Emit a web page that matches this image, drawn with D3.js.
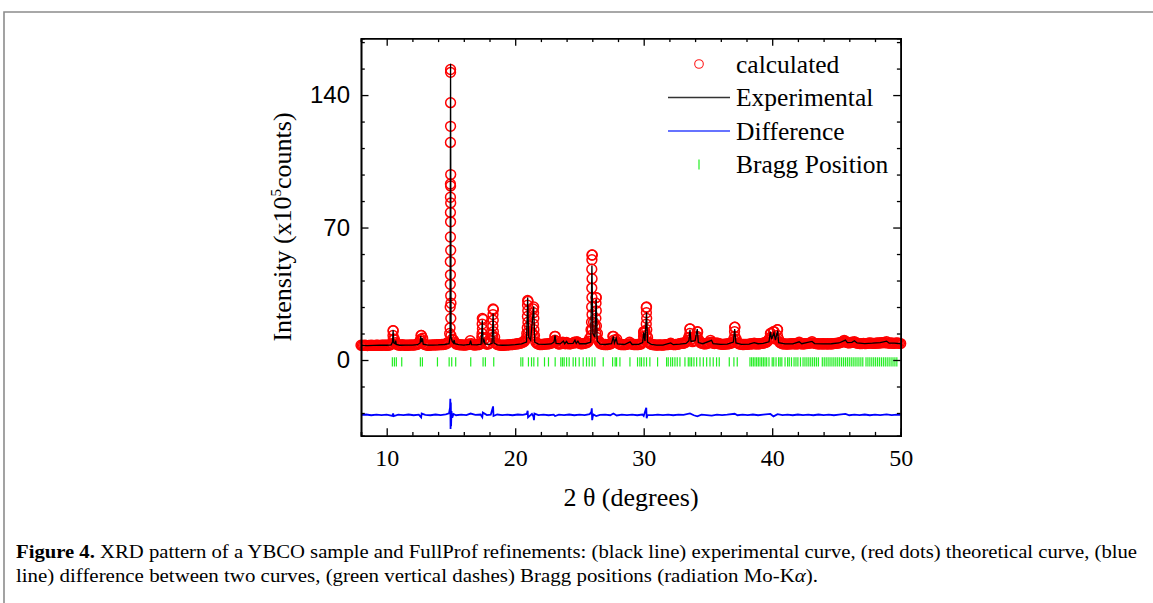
<!DOCTYPE html>
<html>
<head>
<meta charset="utf-8">
<script src="https://cdn.jsdelivr.net/npm/d3@7"></script>
<style>
  body { margin: 0; background: #fff; }
  svg { display: block; }
</style>
</head>
<body>
<div id="chart"></div>
<script>
// calculated profile, read every 0.1 deg from 8.0 to 50.0
var calcStart = 8.0, calcStep = 0.1;
var calcGrid = [
  7.8, 7.7, 7.7, 7.8, 7.7, 7.6, 7.7, 7.7, 7.8, 7.7,
  7.7, 7.7, 7.8, 7.8, 7.7, 7.7, 7.8, 7.9, 7.9, 7.8,
  7.8, 7.8, 7.9, 8.0, 8.7, 15.5, 11.0, 9.2, 8.2, 7.9,
  7.9, 7.8, 8.1, 7.9, 7.8, 7.8, 7.8, 7.8, 7.9, 8.0,
  7.9, 7.9, 8.0, 8.1, 8.3, 9.0, 10.2, 13.0, 11.5, 8.5,
  8.1, 7.9, 7.8, 7.8, 7.9, 7.9, 8.0, 8.0, 7.9, 8.1,
  8.0, 8.1, 8.1, 8.2, 8.2, 8.3, 8.5, 8.8, 9.5, 14.0,
  30.0, 11.0, 10.5, 9.2, 8.5, 8.3, 8.1, 8.0, 8.0, 8.0,
  7.9, 7.9, 8.0, 8.1, 8.5, 10.2, 8.6, 8.1, 7.9, 8.0,
  8.0, 8.1, 8.2, 8.6, 12.0, 21.5, 11.0, 8.9, 8.3, 8.5,
  8.9, 10.2, 13.5, 26.6, 12.0, 8.9, 8.2, 8.0, 7.9, 7.8,
  7.8, 7.8, 7.9, 7.9, 8.0, 8.0, 8.1, 8.1, 8.2, 8.3,
  8.4, 8.5, 8.6, 8.7, 8.9, 9.1, 9.4, 9.8, 10.8, 14.0,
  31.0, 18.0, 12.5, 14.5, 27.0, 13.0, 9.5, 8.7, 8.4, 8.2,
  8.2, 8.2, 8.3, 8.5, 8.4, 8.5, 8.6, 8.7, 8.9, 9.3,
  9.9, 12.5, 9.9, 8.7, 8.4, 8.5, 8.8, 9.5, 8.9, 8.6,
  9.3, 8.7, 8.5, 8.6, 8.8, 8.9, 9.4, 9.1, 9.7, 9.3,
  8.8, 8.6, 8.6, 8.7, 8.8, 9.0, 9.3, 9.9, 11.5, 16.0,
  55.5, 20.0, 18.0, 33.0, 14.0, 10.0, 8.9, 8.5, 8.3, 8.2,
  8.2, 8.1, 8.2, 8.3, 8.5, 8.9, 12.5, 9.5, 10.5, 11.0,
  8.9, 8.4, 8.2, 8.2, 8.1, 8.1, 8.2, 8.3, 8.5, 9.4,
  8.7, 8.3, 8.2, 8.2, 8.1, 8.2, 8.2, 8.3, 8.5, 9.3,
  14.4, 15.0, 27.8, 12.0, 9.4, 8.6, 8.3, 8.1, 8.0, 8.0,
  7.9, 7.9, 8.0, 8.0, 7.9, 7.9, 8.0, 8.1, 8.1, 8.2,
  8.3, 8.9, 8.4, 8.2, 8.1, 8.2, 8.3, 8.4, 8.6, 8.8,
  8.9, 8.8, 9.1, 9.5, 10.4, 12.0, 16.4, 11.0, 9.7, 10.1,
  10.4, 12.0, 14.8, 10.5, 9.3, 8.9, 8.7, 8.6, 8.5, 8.7,
  8.9, 9.2, 10.4, 9.5, 8.9, 8.7, 8.8, 9.1, 8.7, 8.5,
  8.4, 8.3, 8.3, 8.4, 8.4, 8.5, 8.6, 8.7, 8.9, 9.3,
  11.0, 17.3, 11.0, 9.1, 8.6, 8.4, 8.3, 8.2, 8.2, 8.3,
  8.3, 8.3, 8.4, 8.5, 8.6, 8.5, 8.9, 8.6, 8.5, 8.5,
  8.6, 8.7, 8.8, 8.9, 9.1, 9.3, 9.7, 10.4, 11.5, 14.0,
  12.0, 15.0, 11.5, 11.0, 16.0, 11.0, 9.3, 8.8, 8.6, 8.5,
  8.5, 8.4, 8.4, 8.5, 8.5, 8.6, 8.7, 8.6, 8.5, 8.5,
  8.6, 9.5, 8.7, 8.5, 8.5, 8.6, 8.7, 8.7, 8.8, 8.9,
  9.1, 9.7, 9.0, 8.8, 8.7, 8.6, 8.6, 8.5, 8.5, 8.6,
  8.6, 8.5, 8.5, 8.6, 8.5, 8.5, 8.6, 8.6, 8.7, 8.8,
  8.8, 8.9, 9.0, 9.2, 9.4, 9.7, 10.4, 9.9, 9.3, 9.1,
  9.0, 9.2, 9.5, 9.3, 9.7, 9.2, 8.9, 8.8, 8.7, 8.7,
  8.7, 8.8, 8.7, 8.7, 8.8, 8.9, 9.0, 8.9, 8.8, 8.8,
  8.8, 8.9, 9.0, 8.9, 9.1, 9.2, 9.1, 9.3, 9.1, 9.7,
  9.0, 8.9, 8.9, 9.0, 8.8, 8.8, 8.9, 9.1, 8.9, 8.8,
  8.7
];

// extra calculated points stacked on the flanks of the peaks
var calcPeaks = [
  [14.97,153.5],[14.97,152],[14.97,136],[14.97,123.5],[14.96,115],[14.98,98],[14.96,93],[14.97,92],
  [14.96,86],[14.98,83],[14.96,78],[14.97,73],[14.96,65],[14.98,58],[14.95,52],[14.96,45],
  [14.95,40],[14.98,34],[14.94,28],[14.99,22],[14.93,17],[15.0,13],
  [25.97,55.5],[25.97,53],[25.96,48],[25.98,43],[25.96,38],[25.97,33],[25.95,28],[25.98,24],
  [25.94,20],[25.99,16],[25.93,13],
  [26.3,33],[26.29,30],[26.31,26],[26.28,22],[26.32,18],[26.27,14],[26.33,12],
  [20.97,31.5],[20.96,29],[20.98,26],[20.95,23],[20.99,20],[20.94,17],[21.0,14],[20.93,12],
  [21.44,28],[21.43,25],[21.45,22],[21.42,19],[21.46,16],[21.41,13],
  [18.28,27],[18.27,24],[18.29,21],[18.26,18],[18.3,15],[18.25,12],
  [17.44,22],[17.43,19],[17.45,16.5],[17.42,14],[17.46,12],
  [30.22,28],[30.21,25],[30.23,22],[30.2,19],[30.24,16],[30.19,13],
  [30.0,15],[29.99,12.5],[30.01,11],
  [10.5,15.5],[10.49,13],[10.51,11],
  [12.67,13],[12.66,11],[12.69,10],
  [23.1,12.5],[23.09,10.5],
  [27.64,12.5],[27.65,10.5],
  [33.6,16.5],[33.59,14],[33.61,12],
  [34.17,15],[34.16,12.5],
  [37.08,17.3],[37.07,15],[37.09,12.5],
  [39.86,14],[39.87,12],[40.14,15],[40.42,16],[40.41,13]
];

// experimental curve
var expPts = [
  [8.0,7.7],[8.5,7.6],[9.0,7.7],[9.5,7.8],[10.0,7.8],[10.35,8.0],[10.45,9.5],[10.5,15.7],[10.55,9.0],
  [10.65,8.6],[10.7,10.2],[10.75,8.2],[11.0,7.8],[11.5,7.9],[12.0,7.9],[12.4,8.1],[12.6,9.0],[12.65,12.6],
  [12.7,9.5],[12.78,11.5],[12.84,8.4],[13.2,7.9],[13.6,7.9],[14.0,8.0],[14.5,8.2],[14.85,8.6],[14.93,12],
  [14.97,156.5],[15.01,12],[15.1,9.8],[15.2,9.0],[15.25,10.5],[15.3,8.6],[15.6,8.1],[16.0,7.9],[16.45,8.2],
  [16.53,10.3],[16.6,8.1],[17.0,8.0],[17.35,8.4],[17.44,21],[17.5,9.5],[17.58,10.5],[17.65,8.5],[18.0,8.3],
  [18.2,8.8],[18.28,24.5],[18.35,9.0],[18.6,8.0],[19.0,7.8],[19.5,7.9],[20.0,8.1],[20.5,8.5],[20.88,9.5],
  [20.97,33],[21.05,12],[21.2,10.5],[21.44,28.4],[21.52,9.4],[21.8,8.4],[22.3,8.3],[22.8,8.5],[23.02,9.5],
  [23.1,13],[23.18,8.8],[23.5,8.5],[23.75,10],[23.85,8.6],[24.0,9.8],[24.1,8.7],[24.5,8.8],[24.65,10.5],
  [24.75,8.8],[24.88,10],[25.0,8.6],[25.5,8.6],[25.88,9.5],[25.97,50],[26.05,14],[26.2,12],[26.3,32],
  [26.38,10],[26.6,8.4],[27.0,8.2],[27.5,8.6],[27.64,12.5],[27.72,9.0],[27.86,11.5],[27.95,8.5],[28.5,8.2],
  [28.94,9.6],[29.1,8.2],[29.6,8.3],[29.92,9.2],[30.0,14.6],[30.1,10],[30.22,25.2],[30.3,9.5],[30.6,8.2],
  [31.0,7.9],[31.5,7.9],[32.1,9.0],[32.3,8.1],[32.8,8.4],[33.3,8.8],[33.52,10.2],[33.6,16],[33.68,9.8],
  [34.0,10.2],[34.17,16.4],[34.25,9.2],[34.6,8.6],[35.28,10.4],[35.4,8.6],[36.0,8.3],[36.5,8.4],[36.98,9.5],
  [37.08,16.4],[37.18,9.0],[37.6,8.3],[38.2,8.4],[38.6,9.2],[38.9,8.6],[39.3,8.8],[39.75,9.6],[39.86,15],
  [39.95,11],[40.14,14.5],[40.25,10.5],[40.42,15.5],[40.5,9.2],[41.0,8.5],[41.6,8.5],[42.1,9.6],[42.3,8.6],
  [43.1,9.8],[43.3,8.7],[44.0,8.5],[44.6,8.6],[45.2,9.0],[45.7,10.5],[45.85,9.2],[46.2,9.3],[46.4,10.2],
  [46.6,9.0],[47.2,8.7],[47.8,8.9],[48.4,9.2],[48.9,10.0],[49.1,8.9],[49.5,8.9],[50.0,8.6]
];

// difference curve
var diffPts = [
  [8.0,-29.0],[8.4,-28.8],[8.8,-29.2],[9.2,-28.9],[9.6,-29.1],[10.0,-28.9],[10.45,-29.5],[10.5,-28.2],
  [10.55,-29.6],[10.9,-28.9],[11.3,-29.1],[11.7,-28.8],[12.1,-29.2],[12.5,-28.9],[12.68,-30.3],[12.72,-28.3],
  [13.0,-29.0],[13.4,-29.2],[13.8,-28.8],[14.2,-29.1],[14.6,-28.7],[14.85,-28.2],[14.93,-25],[14.95,-20.5],
  [14.97,-36.5],[14.99,-22.5],[15.01,-35],[15.04,-27],[15.1,-30.5],[15.2,-28.5],[15.4,-29.2],[15.8,-28.9],
  [16.2,-29.1],[16.53,-28.3],[16.9,-29.0],[17.3,-28.8],[17.44,-30.2],[17.48,-27.8],[17.8,-29.1],[18.1,-28.9],
  [18.28,-24.5],[18.31,-29.6],[18.6,-28.8],[19.0,-29.1],[19.4,-28.9],[19.8,-29.2],[20.2,-28.8],[20.6,-29.0],
  [20.9,-28.5],[20.97,-26.8],[21.0,-30.3],[21.3,-28.5],[21.42,-29.8],[21.46,-31.8],[21.5,-28.3],[21.8,-29.1],
  [22.2,-28.9],[22.6,-29.2],[23.0,-28.9],[23.1,-29.6],[23.4,-28.9],[23.8,-29.1],[24.2,-28.8],[24.6,-29.2],
  [25.0,-28.9],[25.4,-29.1],[25.8,-28.6],[25.93,-27.3],[25.96,-25.5],[25.99,-31.8],[26.03,-30],[26.1,-28.8],
  [26.3,-29.6],[26.6,-29.0],[27.0,-28.9],[27.4,-29.2],[27.64,-28.3],[27.9,-29.3],[28.3,-28.9],[28.7,-29.1],
  [29.1,-28.9],[29.5,-29.2],[29.9,-28.8],[30.0,-29.6],[30.2,-25.2],[30.23,-30.8],[30.3,-29.0],[30.7,-29.1],
  [31.1,-28.9],[31.5,-29.1],[31.9,-28.9],[32.3,-29.2],[32.7,-28.9],[33.1,-29.0],[33.6,-28.2],[33.9,-29.2],
  [34.17,-29.8],[34.5,-28.9],[34.9,-29.1],[35.3,-29.4],[35.7,-28.9],[36.1,-29.1],[36.5,-28.9],[37.08,-28.4],
  [37.3,-29.2],[37.7,-28.9],[38.1,-29.1],[38.5,-28.8],[38.9,-29.2],[39.3,-28.9],[39.86,-28.5],[40.1,-29.8],
  [40.42,-28.6],[40.8,-29.1],[41.2,-28.9],[41.6,-29.2],[42.0,-28.8],[42.4,-29.1],[42.8,-28.9],[43.2,-29.2],
  [43.6,-28.8],[44.0,-29.1],[44.4,-28.9],[44.8,-29.2],[45.2,-28.9],[45.7,-28.5],[46.0,-29.2],[46.4,-28.9],
  [46.8,-29.1],[47.2,-28.8],[47.6,-29.2],[48.0,-28.9],[48.4,-29.1],[48.9,-28.7],[49.3,-29.1],[49.7,-28.9],
  [50.0,-29.0]
];

// Bragg reflection positions (2 theta)
var braggPos = [
  10.44,10.6,10.75,11.17,12.62,12.78,13.95,14.86,15.06,15.37,16.54,17.5,17.68,18.33,20.44,20.59,21.03,
  21.27,21.45,21.76,22.28,22.59,23.11,23.55,23.68,23.81,24.0,24.2,24.51,24.7,24.98,25.29,25.55,25.76,
  25.99,26.2,26.85,27.58,27.78,27.89,28.15,28.93,29.52,29.7,29.83,30.02,30.22,30.48,31.08,31.78,31.91,
  32.1,32.25,32.43,32.61,32.82,33.21,33.47,33.6,33.73,33.91,34.12,34.38,34.64,34.9,35.16,35.41,35.67,
  35.88,36.66,37.02,37.28,38.27,38.4,38.53,38.66,38.79,38.92,39.05,39.18,39.31,39.44,39.57,39.75,40.0,
  40.12,40.3,40.5,40.62,40.75,41.0,41.2,41.33,41.5,41.7,41.85,42.0,42.2,42.4,42.55,42.7,42.85,43.0,
  43.15,43.3,43.45,43.6,43.9,44.05,44.2,44.35,44.5,44.65,44.8,44.95,45.1,45.25,45.4,45.55,45.7,45.85,
  46.0,46.15,46.3,46.45,46.6,46.75,46.9,47.05,47.3,47.45,47.6,47.75,47.9,48.05,48.2,48.35,48.5,48.65,
  48.8,48.95,49.1,49.25,49.4,49.55,49.7
];
var braggLevel = -1;

var xMajor = [10, 20, 30, 40, 50];
var yMajor = [0, 70, 140];
var legendNames = ['calculated', 'Experimental', 'Difference', 'Bragg Position'];

var width = 1153, height = 603;
var serif = "'Liberation Serif', 'Times New Roman', serif";
var sans = "'Liberation Sans', Arial, sans-serif";

var svg = d3.select('#chart').append('svg')
    .attr('width', width)
    .attr('height', height);

svg.append('rect').attr('width', width).attr('height', height).attr('fill', '#fff');

// page frame
svg.append('path')
    .attr('d', 'M4,' + height + 'V12H' + width)
    .attr('fill', 'none')
    .attr('stroke', '#8c8c8c')
    .attr('stroke-width', 1.6);

var x = d3.scaleLinear().domain([8, 50]).range([361, 900.7]);
var y = d3.scaleLinear().domain([-40, 170]).range([435.7, 38.3]);

var plot = svg.append('g');

// red calculated circles
var calcPts = calcGrid.map(function (v, i) { return [calcStart + i * calcStep, v]; }).concat(calcPeaks);
plot.append('g').selectAll('circle')
    .data(calcPts)
    .enter().append('circle')
    .attr('cx', function (d) { return x(d[0]); })
    .attr('cy', function (d) { return y(d[1]); })
    .attr('r', 4.9)
    .attr('fill', 'none')
    .attr('stroke', '#ff0000')
    .attr('stroke-width', 1.5);

var line = d3.line()
    .x(function (d) { return x(d[0]); })
    .y(function (d) { return y(d[1]); });

plot.append('path')
    .datum(expPts)
    .attr('d', line)
    .attr('fill', 'none')
    .attr('stroke', '#000')
    .attr('stroke-width', 1.3);

plot.append('path')
    .datum(diffPts)
    .attr('d', line)
    .attr('fill', 'none')
    .attr('stroke', '#0000ff')
    .attr('stroke-width', 1.8);

plot.append('g').selectAll('line')
    .data(braggPos)
    .enter().append('line')
    .attr('x1', function (d) { return x(d); })
    .attr('x2', function (d) { return x(d); })
    .attr('y1', y(braggLevel) - 4.6)
    .attr('y2', y(braggLevel) + 4.6)
    .attr('stroke', '#22ee22')
    .attr('stroke-width', 1.2);

// axes, ticks pointing inward
var xMinor = d3.range(8, 51, 2).filter(function (d) { return xMajor.indexOf(d) < 0; });
var yMinor = d3.range(-28, 170, 14).filter(function (d) { return yMajor.indexOf(d) < 0; });

function styleAxis(g) {
    g.select('.domain').attr('stroke', '#000').attr('stroke-width', 1.6);
    g.selectAll('.tick line').attr('stroke', '#000').attr('stroke-width', 1.3);
}

var bottom = svg.append('g').attr('transform', 'translate(0,435.7)')
    .call(d3.axisBottom(x).tickValues(xMajor).tickSizeInner(-7.5).tickSizeOuter(0).tickPadding(13))
    .call(styleAxis);
bottom.selectAll('text').attr('font-family', serif).attr('font-size', 24).attr('fill', '#000');
svg.append('g').attr('transform', 'translate(0,435.7)')
    .call(d3.axisBottom(x).tickValues(xMinor).tickSize(-3.8).tickFormat(''))
    .call(styleAxis);

svg.append('g').attr('transform', 'translate(0,38.3)')
    .call(d3.axisTop(x).tickValues(xMajor).tickSizeInner(-7.5).tickSizeOuter(0).tickFormat(''))
    .call(styleAxis);
svg.append('g').attr('transform', 'translate(0,38.3)')
    .call(d3.axisTop(x).tickValues(xMinor).tickSize(-3.8).tickFormat(''))
    .call(styleAxis);

var left = svg.append('g').attr('transform', 'translate(361,0)')
    .call(d3.axisLeft(y).tickValues(yMajor).tickSizeInner(-7.5).tickSizeOuter(0).tickPadding(11))
    .call(styleAxis);
left.selectAll('text').attr('font-family', sans).attr('font-size', 24).attr('fill', '#000');
svg.append('g').attr('transform', 'translate(361,0)')
    .call(d3.axisLeft(y).tickValues(yMinor).tickSize(-3.8).tickFormat(''))
    .call(styleAxis);

svg.append('g').attr('transform', 'translate(900.7,0)')
    .call(d3.axisRight(y).tickValues(yMajor).tickSizeInner(-7.5).tickSizeOuter(0).tickFormat(''))
    .call(styleAxis);
svg.append('g').attr('transform', 'translate(900.7,0)')
    .call(d3.axisRight(y).tickValues(yMinor).tickSize(-3.8).tickFormat(''))
    .call(styleAxis);

// axis titles
svg.append('text')
    .attr('x', 631).attr('y', 506)
    .attr('text-anchor', 'middle')
    .attr('font-family', serif).attr('font-size', 26)
    .text('2 \u03b8 (degrees)');

var yTitle = svg.append('text')
    .attr('transform', 'translate(291,227) rotate(-90)')
    .attr('text-anchor', 'middle')
    .attr('font-family', serif).attr('font-size', 26);
yTitle.append('tspan').text('Intensity (x10');
yTitle.append('tspan').attr('font-size', 15).attr('dy', -10).text('5');
yTitle.append('tspan').attr('dy', 10).text('counts)');

// legend
var legend = svg.append('g').attr('font-family', serif).attr('font-size', 25.5);
var rowY = [64, 97.5, 131, 164.5];
legendNames.forEach(function (name, i) {
    legend.append('text').attr('x', 736).attr('y', rowY[i] + 8.5).text(name);
});
legend.append('circle').attr('cx', 699).attr('cy', rowY[0]).attr('r', 4.3)
    .attr('fill', 'none').attr('stroke', '#ff1a1a').attr('stroke-width', 1.1);
legend.append('line').attr('x1', 668).attr('x2', 730).attr('y1', rowY[1]).attr('y2', rowY[1])
    .attr('stroke', '#333').attr('stroke-width', 1.3);
legend.append('line').attr('x1', 668).attr('x2', 730).attr('y1', rowY[2]).attr('y2', rowY[2])
    .attr('stroke', '#3344ff').attr('stroke-width', 1.5);
legend.append('line').attr('x1', 699).attr('x2', 699).attr('y1', rowY[3] - 5).attr('y2', rowY[3] + 5)
    .attr('stroke', '#22ee22').attr('stroke-width', 1.2);

// caption
var cap1 = svg.append('text')
    .attr('x', 16).attr('y', 558)
    .attr('font-family', serif).attr('font-size', 19)
    .attr('textLength', 1121).attr('lengthAdjust', 'spacingAndGlyphs');
cap1.append('tspan').attr('font-weight', 'bold').text('Figure 4.');
cap1.append('tspan').text(' XRD pattern of a YBCO sample and FullProf refinements: (black line) experimental curve, (red dots) theoretical curve, (blue');

var cap2 = svg.append('text')
    .attr('x', 16).attr('y', 582)
    .attr('font-family', serif).attr('font-size', 19)
    .attr('textLength', 802).attr('lengthAdjust', 'spacingAndGlyphs');
cap2.append('tspan').text('line) difference between two curves, (green vertical dashes) Bragg positions (radiation Mo-K');
cap2.append('tspan').attr('font-style', 'italic').text('\u03b1');
cap2.append('tspan').text(').');
</script>
</body>
</html>
